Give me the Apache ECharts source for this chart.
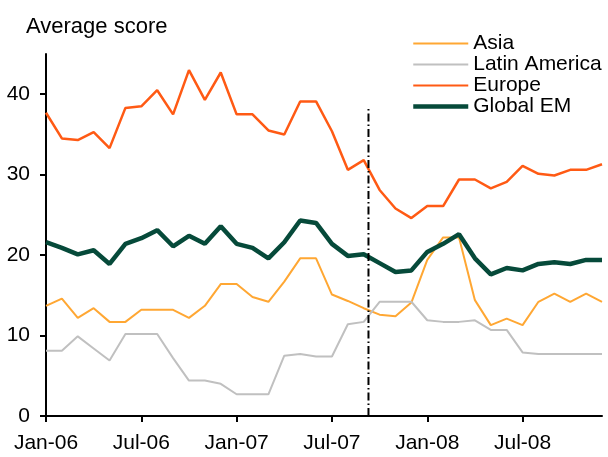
<!DOCTYPE html>
<html>
<head>
<meta charset="utf-8">
<script src="https://cdn.jsdelivr.net/npm/echarts@6/dist/echarts.min.js"></script>
<style>
html, body { margin: 0; padding: 0; background: #fff; }
#container { width: 608px; height: 457px; }
</style>
</head>
<body>
<div id="container"></div>
<script>
// monthly data, Jan-06 .. Dec-08 (index 0..35)
var tickLabels = ['Jan-06', 'Jul-06', 'Jan-07', 'Jul-07', 'Jan-08', 'Jul-08'];
var asia = [13.7, 14.6, 12.2, 13.4, 11.7, 11.7, 13.2, 13.2, 13.2, 12.2, 13.7, 16.4,
            16.4, 14.8, 14.2, 16.7, 19.6, 19.6, 15.1, 14.3, 13.4, 12.6, 12.4, 14.1,
            19.4, 22.2, 22.2, 14.4, 11.3, 12.1, 11.3, 14.2, 15.2, 14.2, 15.2, 14.2];
var latam = [8.1, 8.1, 9.9, 8.4, 6.9, 10.2, 10.2, 10.2, 7.2, 4.4, 4.4, 4.0,
             2.7, 2.7, 2.7, 7.5, 7.7, 7.4, 7.4, 11.4, 11.7, 14.2, 14.2, 14.2,
             11.9, 11.7, 11.7, 11.9, 10.7, 10.7, 7.9, 7.7, 7.7, 7.7, 7.7, 7.7];
var europe = [37.7, 34.5, 34.3, 35.3, 33.3, 38.3, 38.5, 40.5, 37.5, 43.0, 39.3, 42.7,
              37.5, 37.5, 35.5, 35.0, 39.1, 39.1, 35.4, 30.6, 31.8, 28.1, 25.8, 24.6,
              26.1, 26.1, 29.4, 29.4, 28.3, 29.1, 31.1, 30.1, 29.9, 30.6, 30.6, 31.3];
var globalEM = [21.6, 20.9, 20.1, 20.6, 18.9, 21.4, 22.1, 23.1, 21.1, 22.4, 21.4, 23.6,
                21.4, 20.9, 19.6, 21.6, 24.3, 24.0, 21.4, 19.9, 20.1, 19.0, 17.9, 18.1,
                20.4, 21.4, 22.6, 19.6, 17.6, 18.4, 18.1, 18.9, 19.1, 18.9, 19.4, 19.4];
var markerX = 20.3;      // dash-dot divider, month index
var markerTop = 38.4;    // its top, in score units

function toPairs(arr) {
    var out = [];
    for (var i = 0; i < arr.length; i++) {
        out.push([i, arr[i]]);
    }
    return out;
}

var dom = document.getElementById("container");
var myChart = echarts.init(dom, null, {renderer: 'canvas'});
var font = 'Liberation Sans, Arial, sans-serif';

function lineSeries(name, arr, color, width, z) {
    return {
        name: name,
        type: 'line',
        data: toPairs(arr),
        symbol: 'none',
        z: z,
        lineStyle: {color: color, width: width},
        itemStyle: {color: color},
        animation: false
    };
}

option = {
    animation: false,
    title: {
        text: 'Average score',
        left: 21,
        top: 11,
        textStyle: {fontFamily: font, fontSize: 22, fontWeight: 'normal', color: '#000', lineHeight: 22}
    },
    legend: {
        data: [
            {name: 'Asia', lineStyle: {width: 2}},
            {name: 'Latin America', lineStyle: {width: 2}},
            {name: 'Europe', lineStyle: {width: 2}},
            {name: 'Global EM', lineStyle: {width: 4.5}}
        ],
        orient: 'vertical',
        left: 411,
        top: 33,
        itemWidth: 55,
        itemHeight: 4,
        itemGap: 0,
        padding: 0,
        selectedMode: false,
        itemStyle: {opacity: 0},   // hide the little symbol, keep the line
        textStyle: {fontFamily: font, fontSize: 21, color: '#000', lineHeight: 19}
    },
    grid: {left: 46, right: 6, top: 54, bottom: 41, containLabel: false},
    xAxis: {
        type: 'value',
        min: 0,
        max: 35,
        axisLine: {lineStyle: {color: '#000', width: 2}},
        axisTick: {show: true, length: 6, lineStyle: {color: '#000', width: 2}, customValues: [0, 6, 12, 18, 24, 30]},
        axisLabel: {
            customValues: [0, 6, 12, 18, 24, 30],
            margin: 17,
            fontFamily: font,
            fontSize: 21,
            color: '#000',
            formatter: function (v) { return tickLabels[Math.round(v / 6)]; }
        },
        splitLine: {show: false}
    },
    yAxis: {
        type: 'value',
        min: 0,
        max: 45,
        axisLine: {show: true, lineStyle: {color: '#000', width: 2}},
        axisTick: {show: true, length: 6, lineStyle: {color: '#000', width: 2}, customValues: [0, 10, 20, 30, 40]},
        axisLabel: {
            customValues: [0, 10, 20, 30, 40],
            margin: 16,
            fontFamily: font,
            fontSize: 21,
            color: '#000'
        },
        splitLine: {show: false}
    },
    series: [
        lineSeries('Asia', asia, '#FFA733', 2, 2),
        lineSeries('Latin America', latam, '#C0C0C0', 2, 2),
        lineSeries('Europe', europe, '#FF5A14', 2.5, 3),
        lineSeries('Global EM', globalEM, '#064A3A', 4.5, 4),
        {
            name: 'divider',
            type: 'line',
            data: [[markerX, 0], [markerX, markerTop]],
            symbol: 'none',
            z: 5,
            lineStyle: {color: '#000', width: 2, type: [8, 3, 1.5, 3]},
            animation: false
        }
    ]
};
if (option && typeof option === "object") {
    myChart.setOption(option, true);
}
</script>
</body>
</html>
